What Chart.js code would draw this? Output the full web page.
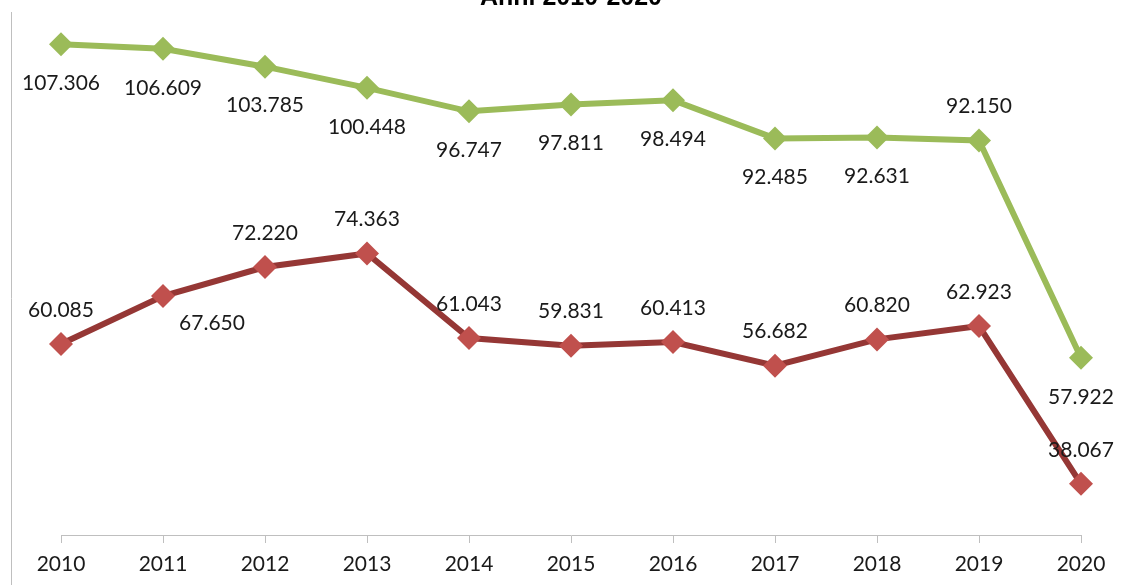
<!DOCTYPE html>
<html>
<head>
<meta charset="utf-8">
<script src="https://cdn.jsdelivr.net/npm/chart.js@4"></script>
<style>
	html, body { margin: 0; padding: 0; background: #fff; }
	canvas { display: block; }
</style>
</head>
<body>
<canvas id="lineChart" width="1121" height="585"></canvas>
<script>
const years = ['2010', '2011', '2012', '2013', '2014', '2015', '2016', '2017', '2018', '2019', '2020'];

const greenValues = [107306, 106609, 103785, 100448, 96747, 97811, 98494, 92485, 92631, 92150, 57922];
const redValues = [60085, 67650, 72220, 74363, 61043, 59831, 60413, 56682, 60820, 62923, 38067];

// where each value label sits relative to its point
const greenLabelPos = ['below', 'below', 'below', 'below', 'below', 'below', 'below', 'below', 'below', 'above', 'below'];
const redLabelPos = ['above', 'belowRight', 'above', 'above', 'above', 'above', 'above', 'above', 'above', 'above', 'above'];

const chartTitle = 'Anni 2010-2020';

const numberFormat = new Intl.NumberFormat('it-IT');

const valueLabels = {
	id: 'valueLabels',
	afterDatasetsDraw(chart) {
		const ctx = chart.ctx;
		ctx.save();
		ctx.font = '21px Lato';
		ctx.fillStyle = '#1a1a1a';
		ctx.textAlign = 'center';
		ctx.textBaseline = 'middle';
		chart.data.datasets.forEach((ds, di) => {
			const meta = chart.getDatasetMeta(di);
			meta.data.forEach((pt, i) => {
				const pos = ds.labelPos[i];
				let x = pt.x;
				let y = pt.y;
				if (pos == 'above') {
					y -= 34;
				} else if (pos == 'below') {
					y += 39;
				} else if (pos == 'belowRight') {
					x += 49;
					y += 27;
				}
				ctx.fillText(numberFormat.format(ds.data[i]), x, y);
			});
		});
		ctx.restore();
	}
};

const decorations = {
	id: 'decorations',
	beforeDatasetsDraw(chart) {
		const ctx = chart.ctx;
		const area = chart.chartArea;
		ctx.save();
		// vertical axis line, left of the first category
		ctx.strokeStyle = '#BFBFBF';
		ctx.lineWidth = 1;
		ctx.beginPath();
		ctx.moveTo(11.5, area.top);
		ctx.lineTo(11.5, chart.height);
		ctx.stroke();
		// title, clipped by the top edge
		ctx.font = 'bold 25px "Liberation Sans"';
		ctx.fillStyle = '#000';
		ctx.textAlign = 'center';
		ctx.textBaseline = 'alphabetic';
		ctx.fillText(chartTitle, (area.left + area.right) / 2, 5);
		ctx.restore();
	}
};

function renderChart() {
	const ctx = document.getElementById('lineChart').getContext('2d');

	new Chart(ctx, {
		type: 'line',
		data: {
			labels: years,
			datasets: [{
				data: greenValues,
				labelPos: greenLabelPos,
				borderColor: '#9BBB59',
				backgroundColor: '#9BBB59',
				pointBackgroundColor: '#9BBB59',
				borderWidth: 6,
				pointStyle: 'rectRot',
				pointRadius: 12,
				pointBorderWidth: 0,
				tension: 0,
			}, {
				data: redValues,
				labelPos: redLabelPos,
				borderColor: '#953735',
				backgroundColor: '#C0504D',
				pointBackgroundColor: '#C0504D',
				borderWidth: 6,
				pointStyle: 'rectRot',
				pointRadius: 12,
				pointBorderWidth: 0,
				tension: 0,
			}]
		},
		options: {
			responsive: false,
			animation: false,
			devicePixelRatio: 1,
			layout: {
				padding: { left: 61, right: 40, top: 11, bottom: 0 }
			},
			plugins: {
				legend: { display: false },
				tooltip: { enabled: false },
			},
			scales: {
				x: {
					offset: false,
					grid: {
						display: true,
						drawOnChartArea: false,
						color: '#BFBFBF',
						tickLength: 8,
					},
					border: { display: true, color: '#BFBFBF', width: 1 },
					ticks: {
						color: '#1a1a1a',
						font: { family: 'Lato', size: 21 },
						padding: 9,
						maxRotation: 0,
						autoSkip: false,
					},
					afterFit(scale) {
						scale.height = 50;
					}
				},
				y: {
					display: false,
					min: 30000,
					max: 112400,
				}
			}
		},
		plugins: [decorations, valueLabels]
	});
}

renderChart();
</script>
</body>
</html>
